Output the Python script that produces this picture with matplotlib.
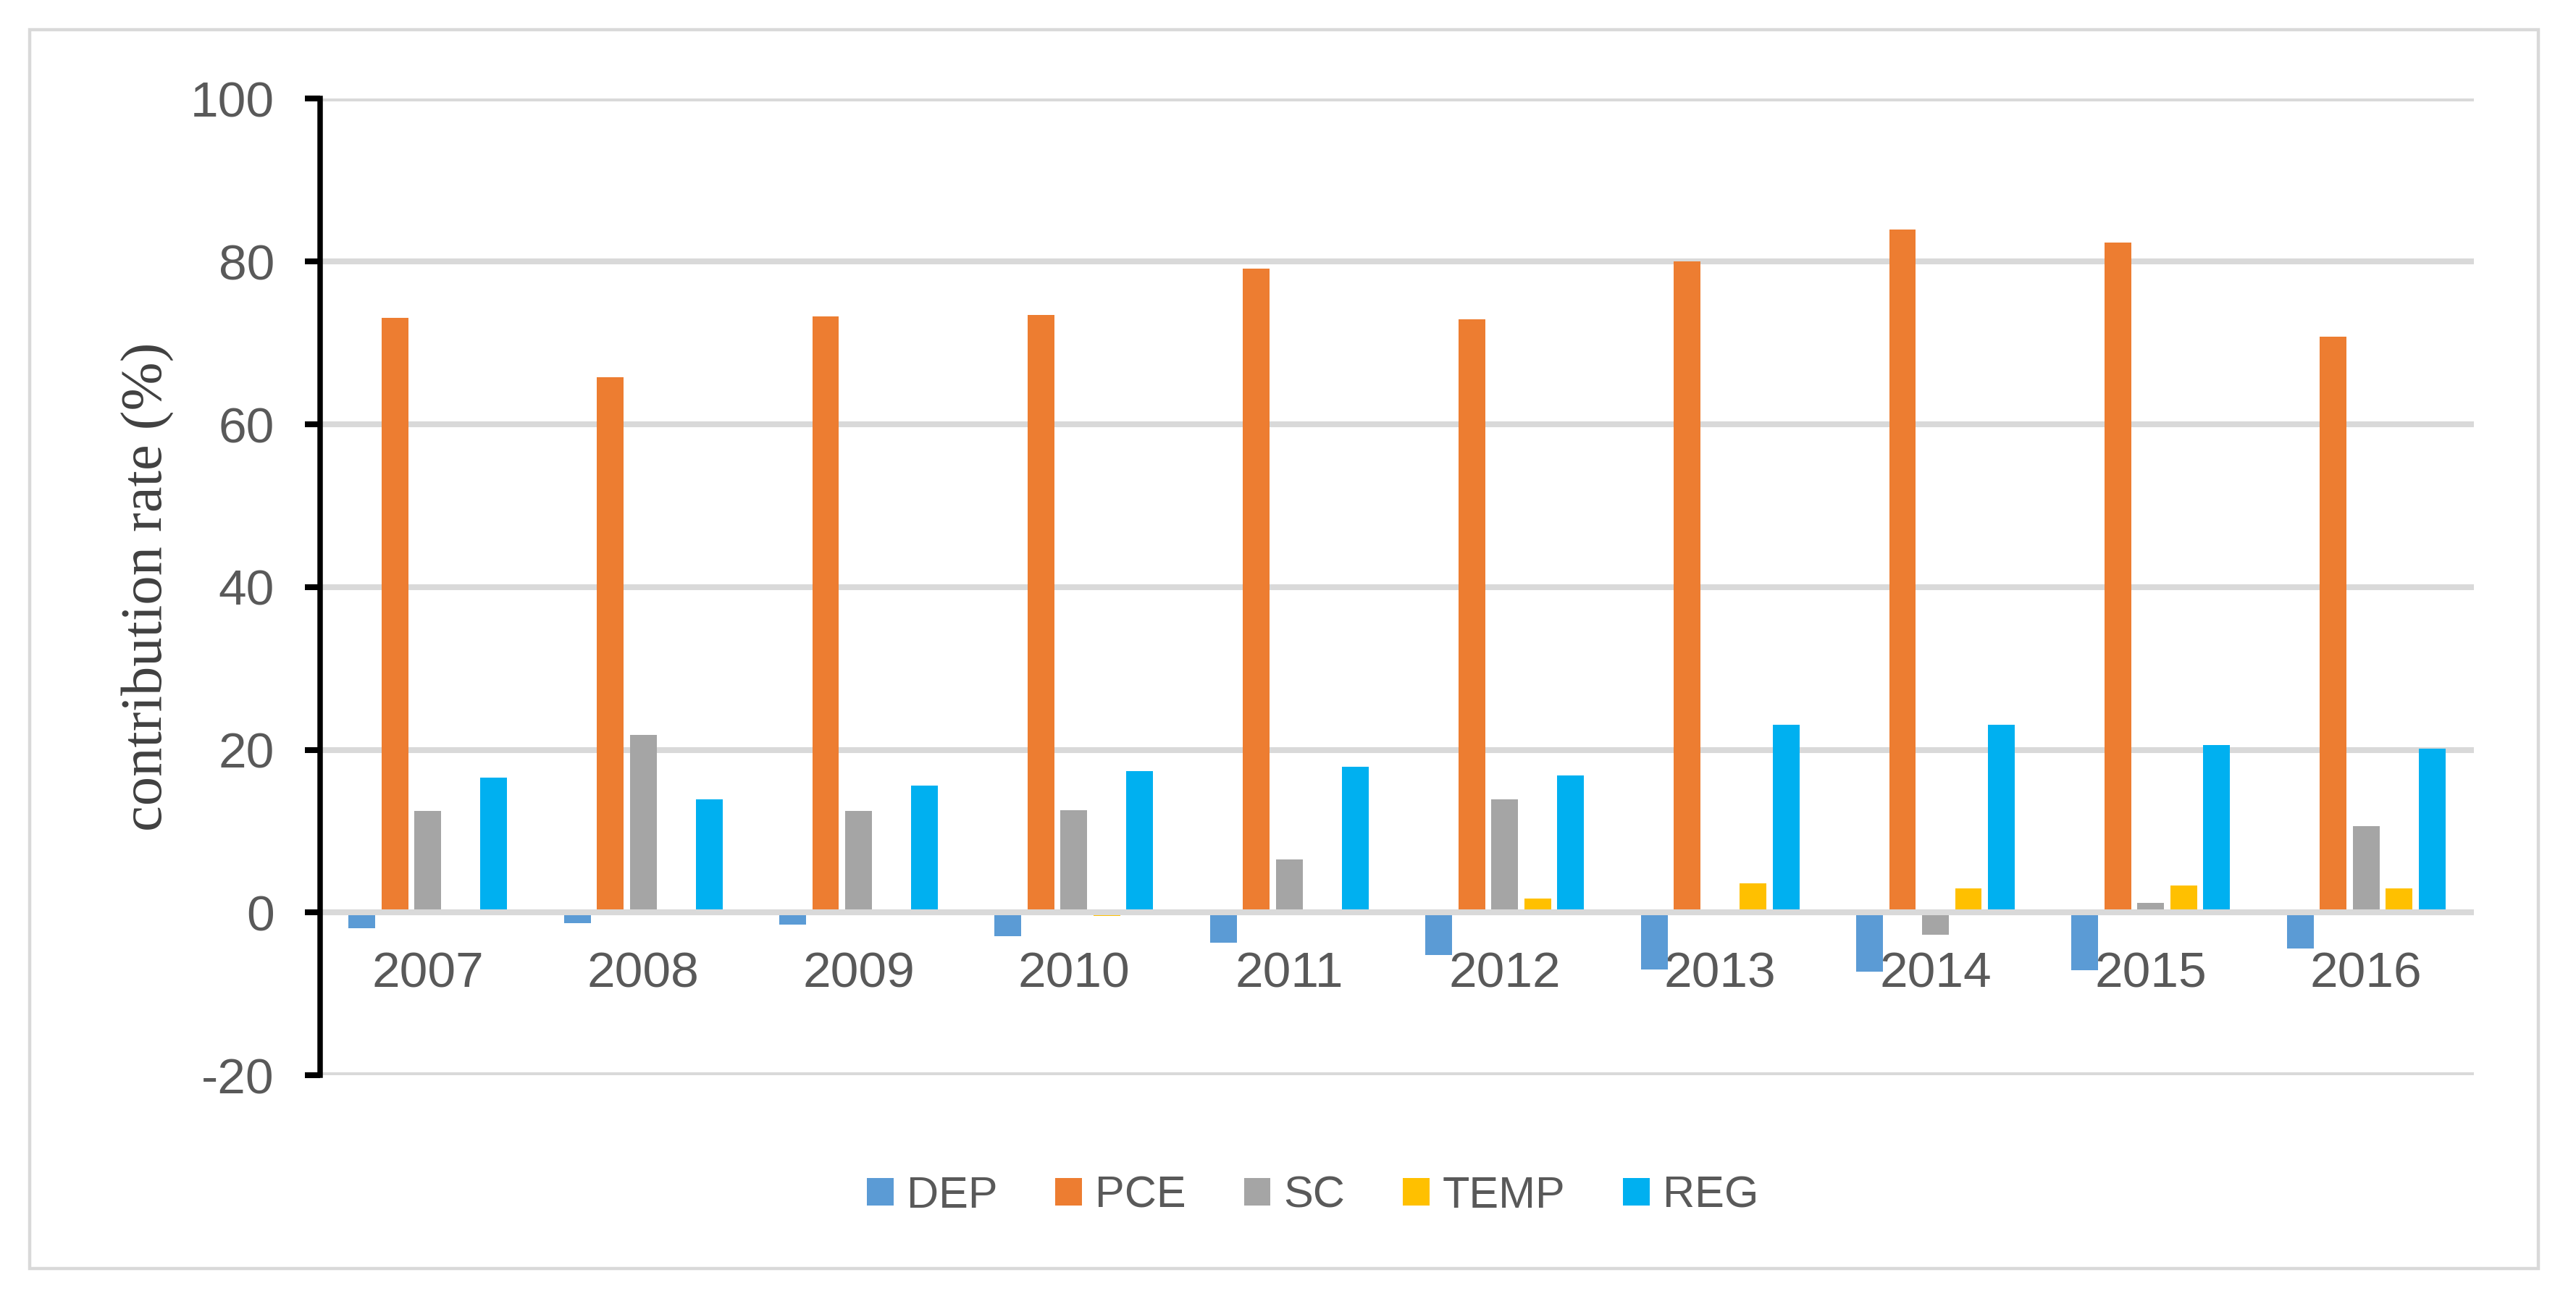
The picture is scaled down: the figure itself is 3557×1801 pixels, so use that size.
import numpy as np
import matplotlib
matplotlib.use("Agg")
import matplotlib.pyplot as plt
from matplotlib.patches import Rectangle

# ===== data =====
years = ["2007", "2008", "2009", "2010", "2011", "2012", "2013", "2014", "2015", "2016"]
series_names = ["DEP", "PCE", "SC", "TEMP", "REG"]
dep = [-1.9, -1.3, -1.5, -2.9, -3.7, -5.2, -7.0, -7.3, -7.1, -4.4]
pce = [73.1, 65.8, 73.3, 73.4, 79.1, 72.9, 80.0, 83.9, 82.3, 70.8]
sc = [12.5, 21.8, 12.5, 12.6, 6.5, 13.9, 0.2, -2.7, 1.2, 10.6]
temp = [0.0, 0.0, 0.0, -0.4, 0.2, 1.7, 3.6, 3.0, 3.3, 3.0]
reg = [16.6, 13.9, 15.6, 17.4, 17.9, 16.8, 23.1, 23.1, 20.6, 20.1]
colors = ["#5B9BD5", "#ED7D31", "#A5A5A5", "#FFC000", "#00B0F0"]
yticks = [-20, 0, 20, 40, 60, 80, 100]

W, H = 3557, 1801
DPI = 200
fig = plt.figure(figsize=(W / DPI, H / DPI), dpi=DPI)
fig.patch.set_facecolor("white")

# outer chart border
fig.patches.append(Rectangle((41 / W, 1 - 1752 / H), (3505 - 41) / W, (1752 - 41) / H,
                             transform=fig.transFigure, fill=False,
                             edgecolor="#D9D9D9", linewidth=1.6))

left, right, top, bottom = 442, 3416, 136.5, 1485
ax = fig.add_axes([left / W, 1 - bottom / H, (right - left) / W, (bottom - top) / H])

x = np.arange(len(years))
pitch = 0.153
width = 0.124
all_series = [dep, pce, sc, temp, reg]
for i, (name, vals) in enumerate(zip(series_names, all_series)):
    ax.bar(x + (i - 2) * pitch, vals, width=width, color=colors[i], label=name, zorder=2)

ax.set_xlim(-0.5, len(years) - 0.5)
ax.set_ylim(-20, 100)
ax.set_yticks(yticks)
ax.set_yticklabels([str(v) for v in yticks])

# grid & zero line
ax.yaxis.grid(True, color="#D9D9D9", linewidth=2.9, zorder=0)
ax.set_axisbelow(True)
ax.axhline(0, color="#D9D9D9", linewidth=2.9, zorder=3)

for s in ["top", "right"]:
    ax.spines[s].set_visible(False)
ax.spines["bottom"].set_position(("data", 0))
ax.spines["bottom"].set_visible(False)
ax.spines["left"].set_color("black")
ax.spines["left"].set_linewidth(2.7)
ax.spines["left"].set_zorder(4)

ax.set_xticks(x)
ax.set_xticklabels(years)
ax.tick_params(axis="x", length=0, pad=19, labelsize=25, labelcolor="#595959")
ax.tick_params(axis="y", length=7.7, width=2.9, direction="out", pad=15,
               labelsize=25, labelcolor="#595959", color="black")
for lab in ax.get_xticklabels() + ax.get_yticklabels():
    lab.set_fontfamily("Liberation Sans")

fig.text(204 / W, 1 - 810 / H, "contribution rate (%)", rotation=90,
         ha="center", va="center", fontsize=29, family="Liberation Serif", color="#404040")

handles, labels = ax.get_legend_handles_labels()
fig.legend(handles, labels, loc="center", bbox_to_anchor=(1813 / W, 1 - 1652 / H),
           ncol=5, frameon=False, handlelength=0.6, handleheight=0.6,
           handletextpad=0.3, columnspacing=1.3,
           prop={"family": "Liberation Sans", "size": 22}, labelcolor="#595959")

fig.savefig("out.png", dpi=DPI, facecolor="white")
